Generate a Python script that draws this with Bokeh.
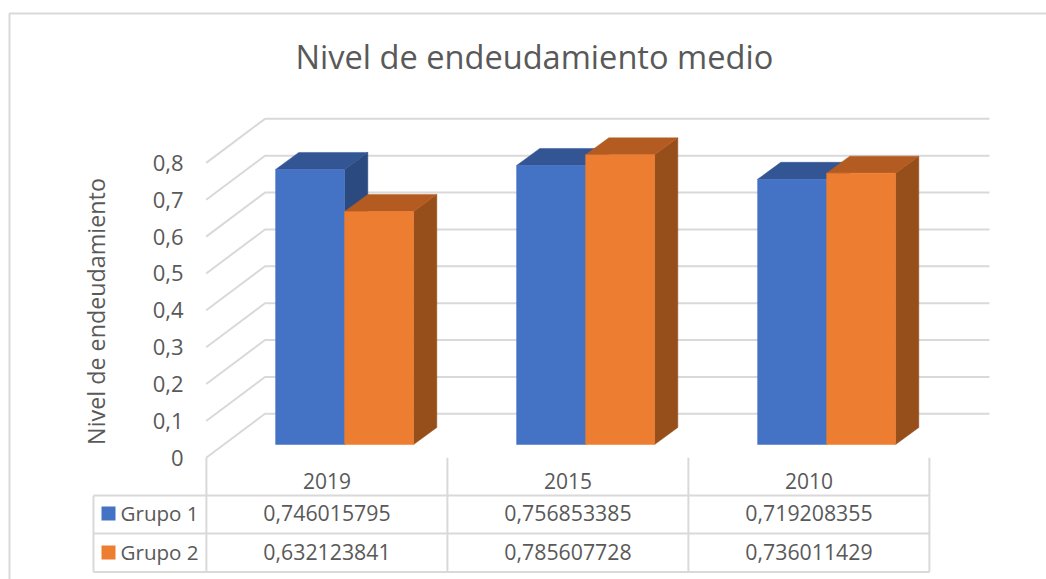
from bokeh.plotting import figure
from bokeh.models import Range1d, FixedTicker, ColumnDataSource
from bokeh.core.properties import value
from bokeh.embed import file_html
from bokeh.resources import INLINE
import math

# ---- data ----
years = ["2019", "2015", "2010"]
series_names = ["Grupo 1", "Grupo 2"]
grupo1 = [0.746015795, 0.756853385, 0.719208355]
grupo2 = [0.632123841, 0.785607728, 0.736011429]
y_ticks = [0, 0.1, 0.2, 0.3, 0.4, 0.5, 0.6, 0.7, 0.8]
title_text = "Nivel de endeudamiento medio"
y_title = "Nivel de endeudamiento"

# ---- layout scale (page pixels) ----
FONT = "Open Sans"
TXT = "#595959"
GRID = "#D9D9D9"
W, H = 1046, 579
CAT_PX = 241.0                   # pixels per category
VAL_PX = 368.7                   # pixels per unit of value
X0_PAGE = 326.5                  # page x of category 0
Y0_PAGE = 457.3                  # page y of value 0


def px(n):
    return n / CAT_PX


def py(n):
    return n / VAL_PX


x_range = Range1d(-X0_PAGE / CAT_PX, (W - X0_PAGE) / CAT_PX)
y_range = Range1d(-(H - Y0_PAGE) / VAL_PX, Y0_PAGE / VAL_PX)


def page_x(x):
    return (x - X0_PAGE) / CAT_PX


def page_y(y):
    return (Y0_PAGE - y) / VAL_PX


p = figure(width=W, height=H, x_range=x_range, y_range=y_range,
           output_backend="svg", toolbar_location=None,
           min_border_left=0, min_border_right=0,
           min_border_top=0, min_border_bottom=0,
           title=title_text, background_fill_color="white",
           border_fill_color="white", outline_line_color=None)

p.title.align = "left"
p.title.offset = 295
p.title.text_font = FONT
p.title.text_font_size = "32.6px"
p.title.text_font_style = "normal"
p.title.text_color = TXT
p.title.standoff = -156

p.grid.visible = False

# y axis: real axis, labels pulled next to the plot floor
ya = p.yaxis[0]
ya.ticker = FixedTicker(ticks=y_ticks)
ya.major_label_overrides = {t: ("0" if t == 0 else f"{t:.1f}".replace(".", ",")) for t in y_ticks}
ya.axis_line_color = None
ya.major_tick_line_color = None
ya.minor_tick_line_color = None
ya.major_label_standoff = -189
ya.major_label_text_font = FONT
ya.major_label_text_font_size = "22px"
ya.major_label_text_color = TXT

# x axis: years
xa = p.xaxis[0]
xa.ticker = FixedTicker(ticks=[0, 1, 2])
xa.major_label_overrides = {i: y for i, y in enumerate(years)}
xa.axis_line_color = None
xa.major_tick_line_color = None
xa.minor_tick_line_color = None
xa.major_label_standoff = -113
xa.major_label_text_font = FONT
xa.major_label_text_font_size = "21px"
xa.major_label_text_color = TXT

# y axis title
p.text([page_x(95)], [page_y(311)], [y_title], angle=math.pi / 2,
       text_align="center", text_baseline="middle",
       text_font=value(FONT), text_font_size="23.3px", text_color=TXT)

# chart border (top and left edges)
p.line([page_x(9), page_x(9), page_x(W)], [page_y(H), page_y(13), page_y(13)],
       line_color=GRID, line_width=2)

# back wall and side wall gridlines
wall_dx, wall_dy = px(58.8), py(44)
for t in y_ticks:
    p.line([page_x(205.7), page_x(205.7) + wall_dx, page_x(989)],
           [t, t + wall_dy, t + wall_dy], line_color=GRID, line_width=2)

# category dividers and table
n = len(years)
edges = [-0.5 + i + (205.9 - (X0_PAGE - CAT_PX / 2)) / CAT_PX for i in range(n + 1)]
p.segment(edges, [0] * (n + 1), edges, [page_y(571.5)] * (n + 1), line_color=GRID, line_width=2)
row_lines = [page_y(495), page_y(533), page_y(571.5)]
p.segment([page_x(93)] * 3, row_lines, [edges[-1]] * 3, row_lines, line_color=GRID, line_width=2)
p.segment([page_x(93)], [row_lines[0]], [page_x(93)], [row_lines[2]], line_color=GRID, line_width=2)

# 3D bars
bar_w = px(69)
bar_dx, bar_dy = px(23.2), py(17)
floor_dx, floor_dy = px(17.6), py(13.3)
styles = [("#4472C4", "#335593", "#2A4A80"), ("#ED7D31", "#B35B20", "#964F1B")]

for s, vals in enumerate([grupo1, grupo2]):
    front, top, side = styles[s]
    for i, v in enumerate(vals):
        x1 = i + floor_dx + (s - 1) * bar_w
        x2 = x1 + bar_w
        y1 = floor_dy
        y2 = floor_dy + v
        p.patch([x2, x2 + bar_dx, x2 + bar_dx, x2], [y1, y1 + bar_dy, y2 + bar_dy, y2], color=side, line_color=side, line_width=0.5)
        p.patch([x1, x2, x2 + bar_dx, x1 + bar_dx], [y2, y2, y2 + bar_dy, y2 + bar_dy], color=top, line_color=top, line_width=0.5)
        p.quad(left=x1, right=x2, bottom=y1, top=y2, color=front, line_color=front, line_width=0.5)

# table contents
row_y = [page_y(512.8), page_y(551.3)]
key_y = [page_y(513), page_y(552)]
for r, vals in enumerate([grupo1, grupo2]):
    src = ColumnDataSource(dict(x=list(range(n)), y=[row_y[r]] * n,
                                t=[f"{v:.9f}".replace(".", ",") for v in vals]))
    p.text("x", "y", "t", source=src, text_align="center", text_baseline="middle",
           text_font=value(FONT), text_font_size="21.3px", text_color=TXT)
    p.quad(left=page_x(101), right=page_x(115), bottom=key_y[r] - py(7), top=key_y[r] + py(7),
           color=styles[r][0], line_color=None)
    p.text([page_x(120)], [row_y[r]], [series_names[r]], text_align="left", text_baseline="middle",
           text_font=value(FONT), text_font_size="20.6px", text_color=TXT)

open("out.html", "w").write(file_html(p, INLINE))
